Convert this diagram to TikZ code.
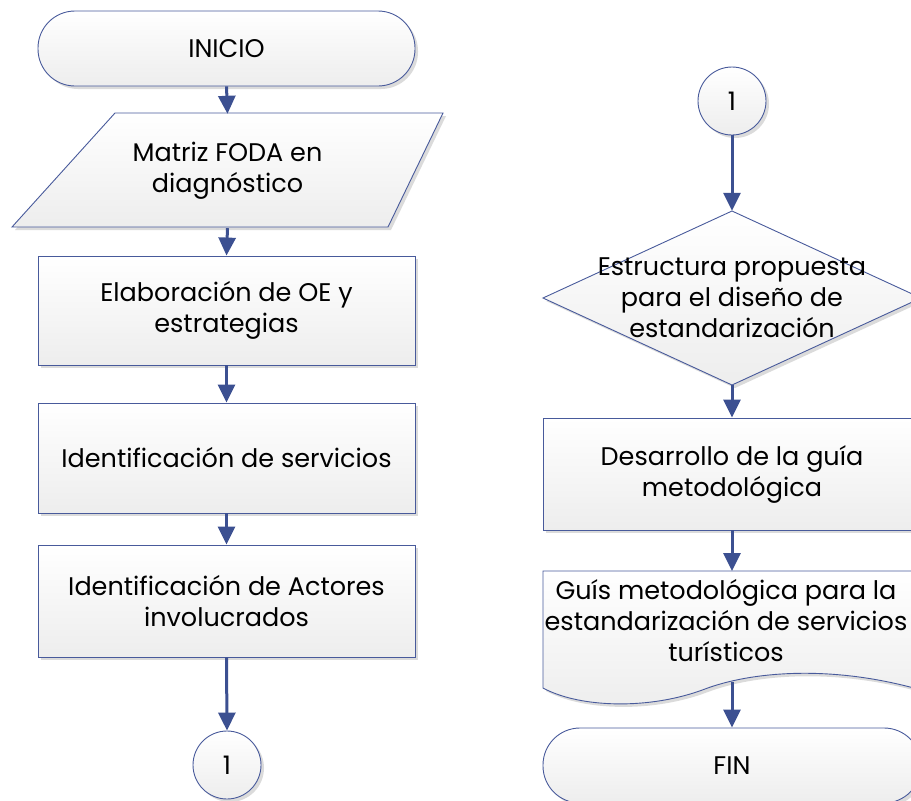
\documentclass[tikz,border=0pt]{standalone}
\usepackage{fontspec}
\setmainfont{Poppins}
\usetikzlibrary{arrows.meta,shadows}
\definecolor{edge}{RGB}{72,90,155}
\definecolor{arr}{RGB}{60,80,145}
\tikzset{
 box/.style={draw=edge, line width=0.9pt, top color=white, bottom color=black!7,
   drop shadow={shadow xshift=3pt, shadow yshift=-3pt, fill=black!14, opacity=1}},
 lbl/.style={align=center, font=\fontsize{25.5}{31}\selectfont, text=black},
 flow/.style={draw=arr, line width=3pt, -{Triangle[width=17pt,length=18pt]}},
}
\begin{document}
\begin{tikzpicture}[x=1pt,y=-1pt]
\useasboundingbox (0,0) rectangle (911,801);
\clip (0,0) rectangle (911,801);
% left column
\node[box, rounded corners=37pt, minimum width=377pt, minimum height=75pt, inner sep=0pt, lbl] (inicio) at (226.5,48.5) {INICIO};
\path[box] (115,113) -- (443,113) -- (388,227) -- (12,227) -- cycle;
\node[lbl, minimum width=330pt, minimum height=114pt, inner sep=0pt] (foda) at (227.5,171) {Matriz FODA en\\diagnóstico};
\node[box, minimum width=377pt, minimum height=109pt, inner sep=0pt, lbl] (oe) at (226.5,310.5) {Elaboración de OE y\\estrategias};
\node[box, minimum width=377pt, minimum height=110pt, inner sep=0pt, lbl] (serv) at (226.5,458) {Identificación de servicios};
\node[box, minimum width=377pt, minimum height=112pt, inner sep=0pt, lbl] (act) at (226.5,601) {Identificación de Actores\\involucrados};
\node[box, circle, minimum size=68pt, inner sep=0pt, lbl] (c1) at (227,765) {1};
% right column
\node[box, circle, minimum size=68pt, inner sep=0pt, lbl] (c2) at (732,101) {1};
\path[box] (732,211) -- (921,298) -- (732,385) -- (543,298) -- cycle;
\node[lbl, minimum width=300pt, minimum height=174pt, inner sep=0pt] (est) at (732,298) {Estructura propuesta\\para el diseño de\\estandarización};
\node[box, minimum width=378pt, minimum height=112pt, inner sep=0pt, lbl] (des) at (732,474) {Desarrollo de la guía\\metodológica};
\path[box] (543,571) -- (921,571) -- (921,690) .. controls (830,664) and (750,672) .. (705,689) .. controls (650,710) and (580,708) .. (543,688) -- cycle;
\coordinate (gtop) at (732,571);
\node[lbl, inner sep=0pt] (guia) at (726,621) {Guís metodológica para la\\estandarización de servicios\\turísticos};
\coordinate (gbot) at (732,682);
\node[box, rounded corners=37pt, minimum width=378pt, minimum height=75pt, inner sep=0pt, lbl] (fin) at (732,765.5) {FIN};
% connectors
\draw[flow] (inicio.south) -- (foda.north);
\draw[flow] (foda.south) -- (oe.north);
\draw[flow] (oe.south) -- (serv.north);
\draw[flow] (serv.south) -- (act.north);
\draw[flow] (act.south) -- (c1.north);
\draw[flow] (c2.south) -- (est.north);
\draw[flow] (est.south) -- (des.north);
\draw[flow] (des.south) -- (gtop);
\draw[flow] (gbot) -- (fin.north);
\end{tikzpicture}
\end{document}
